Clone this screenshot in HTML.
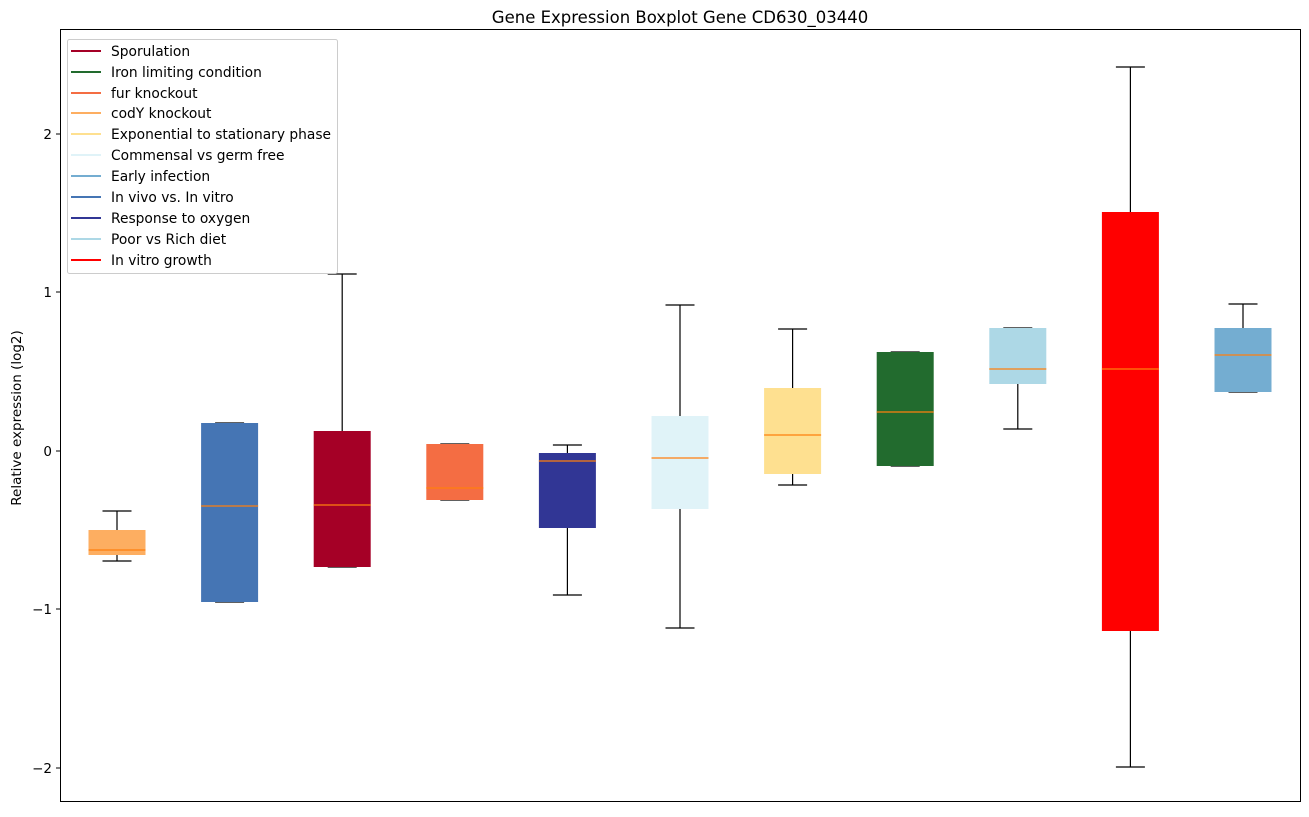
<!DOCTYPE html>
<html><head><style>body{margin:0;background:#fff}</style></head><body>
<svg width="1309" height="812" xmlns="http://www.w3.org/2000/svg" font-family="'DejaVu Sans','Liberation Sans',sans-serif">
<rect width="1309" height="812" fill="#fff"/>
<text x="680" y="23" font-size="16.5" text-anchor="middle">Gene Expression Boxplot Gene CD630_03440</text>
<g stroke="#000" stroke-width="1.2" fill="none">
<path d="M117 511V530M117 555V561M102.5 511H131.5M102.5 561H131.5"/>
<path d="M229.6 423V423M229.6 602V602M215.1 423H244.1M215.1 602H244.1"/>
<path d="M342.2 274V431M342.2 567V567M327.7 274H356.7M327.7 567H356.7"/>
<path d="M454.8 444V444M454.8 500V500M440.3 444H469.3M440.3 500H469.3"/>
<path d="M567.4 445V453M567.4 528V595M552.9 445H581.9M552.9 595H581.9"/>
<path d="M680 305V416M680 509V628M665.5 305H694.5M665.5 628H694.5"/>
<path d="M792.6 329V388M792.6 474V485M778.1 329H807.1M778.1 485H807.1"/>
<path d="M905.2 352V352M905.2 466V466M890.7 352H919.7M890.7 466H919.7"/>
<path d="M1017.8 328V328M1017.8 384V429M1003.3 328H1032.3M1003.3 429H1032.3"/>
<path d="M1130.4 67V212M1130.4 631V767M1115.9 67H1144.9M1115.9 767H1144.9"/>
<path d="M1243 304V328M1243 392V392M1228.5 304H1257.5M1228.5 392H1257.5"/>
</g>
<g>
<rect x="88.5" y="530" width="57" height="25" fill="#fdae61"/>
<rect x="201.1" y="423" width="57" height="179" fill="#4575b4"/>
<rect x="313.7" y="431" width="57" height="136" fill="#a50026"/>
<rect x="426.3" y="444" width="57" height="56" fill="#f46d43"/>
<rect x="538.9" y="453" width="57" height="75" fill="#313695"/>
<rect x="651.5" y="416" width="57" height="93" fill="#e0f3f8"/>
<rect x="764.1" y="388" width="57" height="86" fill="#fee090"/>
<rect x="876.7" y="352" width="57" height="114" fill="#226b2e"/>
<rect x="989.3" y="328" width="57" height="56" fill="#add8e6"/>
<rect x="1101.9" y="212" width="57" height="419" fill="#ff0000"/>
<rect x="1214.5" y="328" width="57" height="64" fill="#74add1"/>
</g>
<g stroke="#ff7f0e" stroke-width="1.2">
<line x1="88.5" x2="145.5" y1="550" y2="550"/>
<line x1="201.1" x2="258.1" y1="506" y2="506"/>
<line x1="313.7" x2="370.7" y1="505" y2="505"/>
<line x1="426.3" x2="483.3" y1="488" y2="488"/>
<line x1="538.9" x2="595.9" y1="461" y2="461"/>
<line x1="651.5" x2="708.5" y1="458" y2="458"/>
<line x1="764.1" x2="821.1" y1="435" y2="435"/>
<line x1="876.7" x2="933.7" y1="412" y2="412"/>
<line x1="989.3" x2="1046.3" y1="369" y2="369"/>
<line x1="1101.9" x2="1158.9" y1="369" y2="369"/>
<line x1="1214.5" x2="1271.5" y1="355" y2="355"/>
</g>
<rect x="60.5" y="29.5" width="1240" height="772" fill="none" stroke="#000" stroke-width="1"/>
<g font-size="13.5" text-anchor="end">
<line x1="56" x2="60" y1="134" y2="134" stroke="#000"/><text x="52" y="139">2</text>
<line x1="56" x2="60" y1="292" y2="292" stroke="#000"/><text x="52" y="297">1</text>
<line x1="56" x2="60" y1="451" y2="451" stroke="#000"/><text x="52" y="456">0</text>
<line x1="56" x2="60" y1="609" y2="609" stroke="#000"/><text x="52" y="614">−1</text>
<line x1="56" x2="60" y1="768" y2="768" stroke="#000"/><text x="52" y="773">−2</text>
</g>
<text transform="translate(21,418) rotate(-90)" font-size="13.5" text-anchor="middle">Relative expression (log2)</text>
<rect x="67.5" y="39.5" width="270" height="234" rx="2" fill="#fff" fill-opacity="0.85" stroke="#ccc"/>
<g font-size="13.8">
<line x1="71" x2="101" y1="51" y2="51" stroke="#a50026" stroke-width="2"/><text x="111" y="56">Sporulation</text>
<line x1="71" x2="101" y1="72" y2="72" stroke="#226b2e" stroke-width="2"/><text x="111" y="77">Iron limiting condition</text>
<line x1="71" x2="101" y1="93" y2="93" stroke="#f46d43" stroke-width="2"/><text x="111" y="98">fur knockout</text>
<line x1="71" x2="101" y1="113" y2="113" stroke="#fdae61" stroke-width="2"/><text x="111" y="118">codY knockout</text>
<line x1="71" x2="101" y1="134" y2="134" stroke="#fee090" stroke-width="2"/><text x="111" y="139">Exponential to stationary phase</text>
<line x1="71" x2="101" y1="155" y2="155" stroke="#e0f3f8" stroke-width="2"/><text x="111" y="160">Commensal vs germ free</text>
<line x1="71" x2="101" y1="176" y2="176" stroke="#74add1" stroke-width="2"/><text x="111" y="181">Early infection</text>
<line x1="71" x2="101" y1="197" y2="197" stroke="#4575b4" stroke-width="2"/><text x="111" y="202">In vivo vs. In vitro</text>
<line x1="71" x2="101" y1="218" y2="218" stroke="#313695" stroke-width="2"/><text x="111" y="223">Response to oxygen</text>
<line x1="71" x2="101" y1="239" y2="239" stroke="#add8e6" stroke-width="2"/><text x="111" y="244">Poor vs Rich diet</text>
<line x1="71" x2="101" y1="260" y2="260" stroke="#ff0000" stroke-width="2"/><text x="111" y="265">In vitro growth</text>
</g>
</svg>
</body></html>
